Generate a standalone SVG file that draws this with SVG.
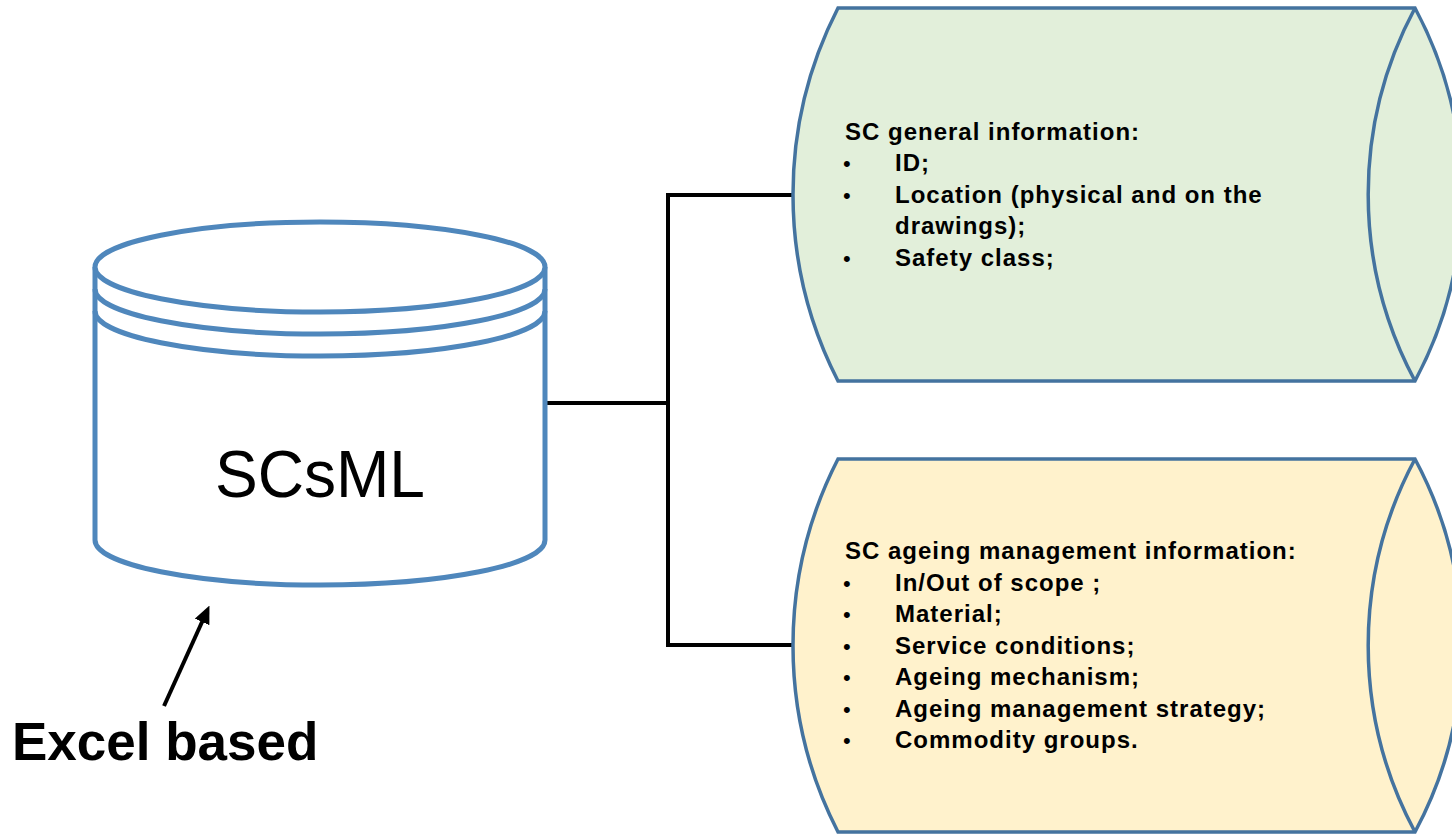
<svg xmlns="http://www.w3.org/2000/svg" width="1452" height="834" viewBox="0 0 1452 834">
  <defs>
    <style>
      .cyl { fill: #ffffff; stroke: #4f87bc; stroke-width: 5; stroke-linejoin: round; }
      .cylline { fill: none; stroke: #4f87bc; stroke-width: 5; }
      .can { stroke: #44739f; stroke-width: 3.5; stroke-linejoin: miter; }
      .inner { fill: none; stroke: #44739f; stroke-width: 3.5; }
      .conn { fill: none; stroke: #000000; stroke-width: 4; }
      .t { font-family: "Liberation Sans", Arial, sans-serif; font-weight: bold; font-size: 24px; letter-spacing: 1px; fill: #000000; }
      .b { font-family: "Liberation Sans", Arial, sans-serif; font-size: 22px; fill: #000000; }
    </style>
    <marker id="arr" markerWidth="18" markerHeight="16" refX="12" refY="8" orient="auto" markerUnits="userSpaceOnUse" viewBox="0 0 18 16">
      <path d="M0,0 L18,8 L0,16 Z" fill="#000000"/>
    </marker>
  </defs>

  <g id="connectors">
    <path class="conn" d="M545 403 L668 403"/>
    <path class="conn" d="M795 195 L668 195 L668 645 L795 645"/>
    <line x1="164" y1="706" x2="207" y2="611" stroke="#000000" stroke-width="4" marker-end="url(#arr)"/>
  </g>

  <g id="scsml">
    <path class="cyl" d="M95 267 L95 540 A225 45 0 0 0 545 540 L545 267"/>
    <ellipse class="cyl" cx="320" cy="267" rx="225" ry="45"/>
    <path class="cylline" d="M95 289 A225 45 0 0 0 545 289"/>
    <path class="cylline" d="M95 311 A225 45 0 0 0 545 311"/>
    <text x="320" y="497" text-anchor="middle" font-family="Liberation Sans, Arial, sans-serif" font-size="66" textLength="210" lengthAdjust="spacingAndGlyphs">SCsML</text>
  </g>

  <g id="general">
    <path class="can" fill="#e2efda" d="M838 8 L1415 8 A395 395 0 0 1 1415 381 L838 381 A409 409 0 0 1 838 8 Z"/>
    <path class="inner" d="M1415 8 A395 395 0 0 0 1415 381"/>
    <text class="t" x="845" y="140">SC general information:</text>
    <text class="b" x="843" y="171">•</text>
    <text class="t" x="895" y="171">ID;</text>
    <text class="b" x="843" y="203">•</text>
    <text class="t" x="895" y="203">Location (physical and on the</text>
    <text class="t" x="895" y="234">drawings);</text>
    <text class="b" x="843" y="266">•</text>
    <text class="t" x="895" y="266">Safety class;</text>
  </g>

  <g id="ageing">
    <path class="can" fill="#fff2cc" d="M838 459 L1415 459 A395 395 0 0 1 1415 832 L838 832 A409 409 0 0 1 838 459 Z"/>
    <path class="inner" d="M1415 459 A395 395 0 0 0 1415 832"/>
    <text class="t" x="845" y="559">SC ageing management information:</text>
    <text class="b" x="843" y="591">•</text>
    <text class="t" x="895" y="591">In/Out of scope ;</text>
    <text class="b" x="843" y="622">•</text>
    <text class="t" x="895" y="622">Material;</text>
    <text class="b" x="843" y="654">•</text>
    <text class="t" x="895" y="654">Service conditions;</text>
    <text class="b" x="843" y="685">•</text>
    <text class="t" x="895" y="685">Ageing mechanism;</text>
    <text class="b" x="843" y="717">•</text>
    <text class="t" x="895" y="717">Ageing management strategy;</text>
    <text class="b" x="843" y="748">•</text>
    <text class="t" x="895" y="748">Commodity groups.</text>
  </g>

  <g id="excel">
    <text x="12" y="760" font-family="Liberation Sans, Arial, sans-serif" font-weight="bold" font-size="53">Excel based</text>
  </g>
</svg>
